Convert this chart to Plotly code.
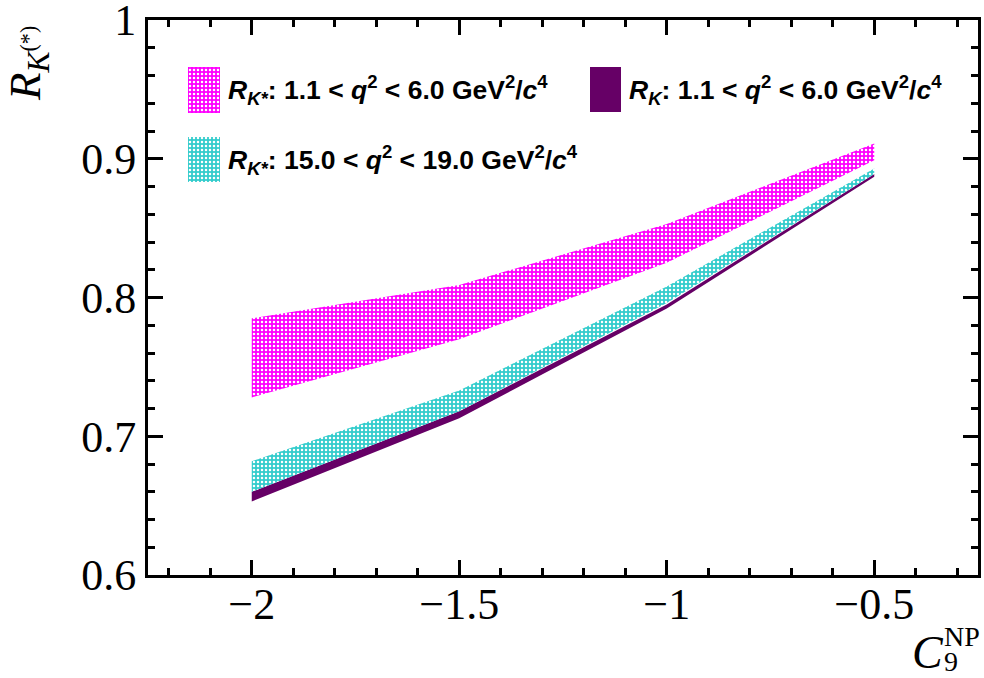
import plotly.graph_objects as go

# ---------------- data ----------------
c9 = [-2.0, -1.5, -1.0, -0.5]
rks_low_hi = [0.785, 0.809, 0.853, 0.911]
rks_low_lo = [0.728, 0.770, 0.825, 0.899]
rks_high_hi = [0.682, 0.733, 0.808, 0.893]
rks_high_lo = [0.660, 0.718, 0.796, 0.889]
rk_hi = [0.660, 0.718, 0.795, 0.889]
rk_lo = [0.653, 0.713, 0.792, 0.887]

x_ticks = [-2, -1.5, -1, -0.5]
x_ticklabels = ["\u22122", "\u22121.5", "\u22121", "\u22120.5"]
y_ticks = [0.6, 0.7, 0.8, 0.9, 1.0]
y_ticklabels = ["0.6", "0.7", "0.8", "0.9", "1"]

labels = [
    "<b><i>R</i><sub><i>K*</i></sub>: 1.1 &lt; <i>q</i><sup>2</sup> &lt; 6.0 GeV<sup>2</sup>/<i>c</i><sup>4</sup></b>",
    "<b><i>R</i><sub><i>K</i></sub>: 1.1 &lt; <i>q</i><sup>2</sup> &lt; 6.0 GeV<sup>2</sup>/<i>c</i><sup>4</sup></b>",
    "<b><i>R</i><sub><i>K*</i></sub>: 15.0 &lt; <i>q</i><sup>2</sup> &lt; 19.0 GeV<sup>2</sup>/<i>c</i><sup>4</sup></b>",
]

MAGENTA = "#ff00ff"
CYAN = "#33cccc"
PURPLE = "#660066"

W, H = 984, 678
L, R, T, B = 148, 978, 20, 575  # plot-area pixel box
XR = [-2.25, -0.25]
YR = [0.6, 1.0]


def px(x):
    return (x - L) / (R - L)


def py(y):
    return (B - y) / (B - T)


def dx(x):  # pixel -> data x (for legend swatch placement)
    return XR[0] + px(x) * (XR[1] - XR[0])


def dy(y):
    return YR[0] + py(y) * (YR[1] - YR[0])


def pattern(color):
    return dict(shape=".", bgcolor=color, fgcolor="white", size=4,
                solidity=0.3, fillmode="replace")


def band(lo, hi, color, pat):
    xs = c9 + c9[::-1]
    ys = hi + lo[::-1]
    kw = dict(x=xs, y=ys, mode="lines", fill="toself", line=dict(width=0),
              showlegend=False, hoverinfo="skip")
    kw["fillcolor"] = color
    if pat:
        kw["fillpattern"] = pattern(color)
    return go.Scatter(**kw)


fig = go.Figure()
fig.add_trace(band(rk_lo, rk_hi, PURPLE, False))
fig.add_trace(band(rks_high_lo, rks_high_hi, CYAN, True))
fig.add_trace(band(rks_low_lo, rks_low_hi, MAGENTA, True))

# legend swatches + labels
legend_items = [
    (188, 220, 67, 113, MAGENTA, True, 226, 90, labels[0]),
    (590, 621, 67, 112, PURPLE, False, 627, 90, labels[1]),
    (188, 220, 137, 182, CYAN, True, 226, 160, labels[2]),
]
for (x0, x1, y0, y1, col, pat, tx, ty, lab) in legend_items:
    kw = dict(x=[dx(x0), dx(x1), dx(x1), dx(x0), dx(x0)],
              y=[dy(y0), dy(y0), dy(y1), dy(y1), dy(y0)],
              mode="lines", fill="toself", line=dict(width=0), fillcolor=col,
              xaxis="x2", yaxis="y2", showlegend=False, hoverinfo="skip")
    if pat:
        kw["fillpattern"] = pattern(col)
    fig.add_trace(go.Scatter(**kw))
    fig.add_annotation(x=px(tx), y=py(ty), xref="paper", yref="paper",
                       text=lab, showarrow=False, xanchor="left", yanchor="middle",
                       font=dict(family="Liberation Sans, Arial", size=26.5, color="black"))

serif = "Liberation Serif, Times New Roman"
tick_common = dict(ticks="inside", ticklen=15, tickwidth=3, tickcolor="black",
                   showgrid=False, zeroline=False, automargin=False)
xminor = dict(dtick=0.1, tick0=-2, ticks="inside", ticklen=7, tickwidth=3,
              tickcolor="black", showgrid=False)
yminor = dict(dtick=0.02, tick0=0.6, ticks="inside", ticklen=7, tickwidth=3,
              tickcolor="black", showgrid=False)

fig.update_layout(
    width=W, height=H,
    margin=dict(l=L, r=W - R, t=T, b=H - B, autoexpand=False),
    paper_bgcolor="white", plot_bgcolor="white",
    xaxis=dict(range=XR, tickvals=x_ticks, ticktext=x_ticklabels,
               showline=True, linecolor="black", linewidth=3, mirror=True,
               ticklabelstandoff=-12, ticklabeloverflow="allow",
               tickfont=dict(family=serif, size=44, color="black"),
               minor=xminor, **tick_common),
    yaxis=dict(range=YR, tickvals=y_ticks, ticktext=y_ticklabels,
               showline=True, linecolor="black", linewidth=3, mirror=True,
               ticklabeloverflow="allow",
               tickfont=dict(family=serif, size=44, color="black"),
               minor=yminor, **tick_common),
    xaxis2=dict(overlaying="x", side="top", anchor="y", range=XR,
                tickvals=x_ticks, showticklabels=False, minor=xminor,
                fixedrange=True, **tick_common),
    yaxis2=dict(overlaying="y", side="right", anchor="x", range=YR,
                tickvals=y_ticks, showticklabels=False, minor=yminor,
                fixedrange=True, **tick_common),
    showlegend=False,
)

# axis titles
fig.add_annotation(x=px(946), y=py(652), xref="paper", yref="paper",
                   text="<i>C</i>", showarrow=False, xanchor="right", yanchor="middle",
                   font=dict(family=serif, size=46, color="black"))
fig.add_annotation(x=px(982), y=py(636), xref="paper", yref="paper",
                   text="NP", showarrow=False, xanchor="right", yanchor="middle",
                   font=dict(family=serif, size=28, color="black"))
fig.add_annotation(x=px(942), y=py(661), xref="paper", yref="paper",
                   text="9", showarrow=False, xanchor="left", yanchor="middle",
                   font=dict(family=serif, size=28, color="black"))
fig.add_annotation(x=px(28), y=py(64), xref="paper", yref="paper",
                   text="<i>R</i><sub><i>K</i><sup>(*)</sup></sub>", textangle=-90,
                   showarrow=False, xanchor="center", yanchor="middle",
                   font=dict(family=serif, size=45, color="black"))

fig.write_html("out.html", post_script="document.body.style.margin='0';",
               config={"displayModeBar": False})
